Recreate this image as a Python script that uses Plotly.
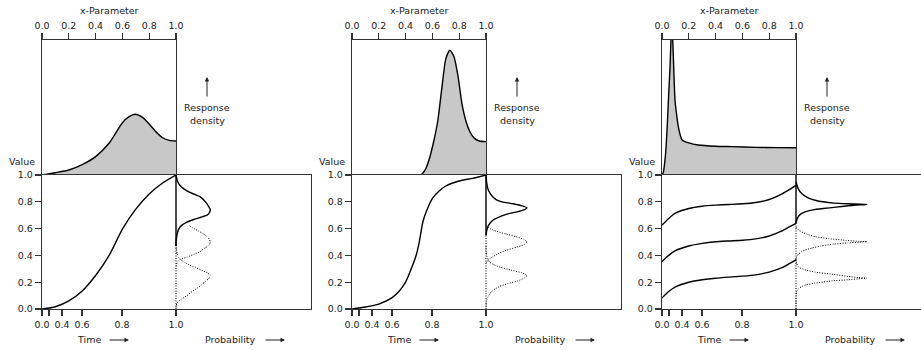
import plotly.graph_objects as go

# ---------------- data ----------------
XPARAM_TICKS = [0.0, 0.2, 0.4, 0.6, 0.8, 1.0]
XPARAM_TICK_TEXT = ["0.0", "0.2", "0.4", "0.6", "0.8", "1.0"]
VALUE_TICKS = [0.0, 0.2, 0.4, 0.6, 0.8, 1.0]
VALUE_TICK_TEXT = ["0.0", "0.2", "0.4", "0.6", "0.8", "1.0"]
# time axis is non-linear with respect to the x-parameter
TIME_TICK_POS = [0.0, 0.052, 0.149, 0.299, 0.597, 1.0]
TIME_TICK_TEXT = ["0.0", "", "0.4", "0.6", "0.8", "1.0"]

# ---- panel 1
P1_TOP_U = [0, 0.1, 0.2, 0.3, 0.4, 0.5, 0.6, 0.65, 0.695, 0.75, 0.8, 0.85, 0.9, 0.95, 1.0]
P1_TOP_D = [0, 0.017, 0.037, 0.077, 0.136, 0.235, 0.387, 0.432, 0.45, 0.427, 0.378, 0.32, 0.276, 0.257, 0.252]
P1_VAL_U = [0, 0.1, 0.2, 0.3, 0.4, 0.5, 0.6, 0.7, 0.8, 0.9, 1.0]
P1_VAL_V = [0, 0.017, 0.06, 0.135, 0.25, 0.398, 0.596, 0.745, 0.858, 0.94, 1.0]
P1_SOLID_V = [1.0, 0.96, 0.936, 0.91, 0.881, 0.86, 0.837, 0.79, 0.743, 0.72, 0.70, 0.685, 0.668, 0.645, 0.626, 0.60, 0.577, 0.54, 0.50, 0.47]
P1_SOLID_P = [0, 0.009, 0.020, 0.041, 0.081, 0.126, 0.180, 0.226, 0.254, 0.248, 0.230, 0.185, 0.131, 0.074, 0.044, 0.022, 0.013, 0.005, 0.001, 0]
P1_DOT1_V = [0.62, 0.60, 0.58, 0.56, 0.54, 0.52, 0.50, 0.48, 0.46, 0.44, 0.428, 0.41, 0.386, 0.371, 0.355, 0.335, 0.31]
P1_DOT1_P = [0.101, 0.133, 0.170, 0.204, 0.230, 0.248, 0.254, 0.248, 0.222, 0.193, 0.178, 0.137, 0.081, 0.032, 0.013, 0.004, 0]
P1_DOT2_V = [0.50, 0.45, 0.41, 0.385, 0.371, 0.35, 0.33, 0.31, 0.29, 0.27, 0.248, 0.225, 0.20, 0.18, 0.16, 0.13, 0.10, 0.075, 0.045, 0.02, 0.0]
P1_DOT2_P = [0, 0.002, 0.009, 0.019, 0.032, 0.059, 0.096, 0.141, 0.189, 0.233, 0.254, 0.241, 0.211, 0.189, 0.163, 0.119, 0.081, 0.041, 0.007, 0.001, 0]

# ---- panel 2
P2_TOP_U = [0, 0.5, 0.52, 0.55, 0.58, 0.61, 0.64, 0.67, 0.70, 0.73, 0.76, 0.79, 0.82, 0.85, 0.88, 0.91, 0.95, 1.0]
P2_TOP_D = [0, 0, 0.005, 0.045, 0.13, 0.25, 0.40, 0.64, 0.86, 0.925, 0.88, 0.74, 0.53, 0.40, 0.32, 0.275, 0.252, 0.247]
P2_VAL_U = [0, 0.1, 0.2, 0.3, 0.35, 0.4, 0.45, 0.48, 0.5, 0.53, 0.56, 0.6, 0.65, 0.7, 0.8, 0.9, 1.0]
P2_VAL_V = [0, 0.015, 0.037, 0.085, 0.13, 0.20, 0.32, 0.405, 0.49, 0.655, 0.74, 0.825, 0.88, 0.918, 0.955, 0.975, 1.0]
P2_SOLID_V = [1.0, 0.95, 0.90, 0.87, 0.84, 0.815, 0.80, 0.785, 0.77, 0.755, 0.74, 0.725, 0.71, 0.69, 0.67, 0.65, 0.63, 0.60, 0.57, 0.55]
P2_SOLID_P = [0, 0.004, 0.013, 0.026, 0.048, 0.078, 0.119, 0.2, 0.267, 0.304, 0.281, 0.23, 0.163, 0.104, 0.063, 0.037, 0.022, 0.009, 0.003, 0]
P2_DOT1_V = [0.62, 0.60, 0.58, 0.56, 0.54, 0.52, 0.50, 0.48, 0.46, 0.44, 0.42, 0.40, 0.38, 0.36, 0.34]
P2_DOT1_P = [0, 0.03, 0.078, 0.148, 0.222, 0.281, 0.304, 0.281, 0.222, 0.156, 0.104, 0.067, 0.033, 0.011, 0]
P2_DOT2_V = [0.47, 0.42, 0.39, 0.37, 0.35, 0.33, 0.31, 0.29, 0.27, 0.25, 0.23, 0.21, 0.19, 0.17, 0.15, 0.13, 0.11, 0.09, 0.07, 0.05, 0.0]
P2_DOT2_P = [0, 0.002, 0.007, 0.015, 0.026, 0.059, 0.111, 0.185, 0.267, 0.304, 0.281, 0.237, 0.163, 0.104, 0.067, 0.041, 0.026, 0.015, 0.007, 0.002, 0]

# ---- panel 3
P3_TOP_U = [0, 0.01, 0.02, 0.03, 0.04, 0.05, 0.06, 0.065, 0.072, 0.08, 0.09, 0.097, 0.11, 0.12, 0.135, 0.15, 0.2, 0.27, 0.4, 0.52, 0.7, 0.85, 1.0]
P3_TOP_D = [0, 0.02, 0.09, 0.2, 0.38, 0.6, 0.8, 0.95, 1.1, 1.0, 0.72, 0.556, 0.44, 0.37, 0.3, 0.26, 0.238, 0.222, 0.213, 0.21, 0.205, 0.203, 0.202]
P3_TRAJ_U = [0, 0.05, 0.1, 0.2, 0.3, 0.4, 0.5, 0.6, 0.7, 0.8, 0.9, 0.95, 1.0]
P3_TRAJ_TOP = [0.626, 0.676, 0.715, 0.75, 0.767, 0.775, 0.78, 0.785, 0.795, 0.817, 0.861, 0.891, 0.923]
P3_TRAJ_MID = [0.354, 0.40, 0.435, 0.47, 0.49, 0.502, 0.508, 0.513, 0.523, 0.545, 0.585, 0.612, 0.639]
P3_TRAJ_BOT = [0.082, 0.13, 0.165, 0.2, 0.218, 0.23, 0.238, 0.245, 0.255, 0.275, 0.31, 0.338, 0.366]
P3_SOLID_V = [0.95, 0.90, 0.86, 0.83, 0.81, 0.80, 0.79, 0.785, 0.78, 0.775, 0.77, 0.76, 0.75, 0.74, 0.725, 0.71, 0.69, 0.665, 0.64]
P3_SOLID_P = [0, 0.015, 0.044, 0.089, 0.148, 0.2, 0.281, 0.385, 0.526, 0.444, 0.385, 0.296, 0.2, 0.126, 0.067, 0.037, 0.017, 0.006, 0]
P3_DOT1_V = [0.61, 0.59, 0.57, 0.555, 0.54, 0.525, 0.512, 0.505, 0.502, 0.499, 0.493, 0.485, 0.47, 0.455, 0.44, 0.425, 0.41, 0.39, 0.36]
P3_DOT1_P = [0, 0.019, 0.052, 0.089, 0.141, 0.244, 0.37, 0.467, 0.526, 0.467, 0.385, 0.281, 0.185, 0.119, 0.067, 0.037, 0.019, 0.004, 0]
P3_DOT2_V = [0.37, 0.34, 0.31, 0.29, 0.275, 0.26, 0.243, 0.235, 0.23, 0.225, 0.218, 0.21, 0.193, 0.18, 0.168, 0.15, 0.13, 0.10, 0.05, 0.0]
P3_DOT2_P = [0, 0.004, 0.022, 0.074, 0.141, 0.264, 0.385, 0.459, 0.526, 0.459, 0.385, 0.264, 0.141, 0.074, 0.042, 0.019, 0.005, 0.001, 0, 0]

PANELS = [
    dict(top=(P1_TOP_U, P1_TOP_D), vals=[(P1_VAL_U, P1_VAL_V)],
         solid=(P1_SOLID_P, P1_SOLID_V), dots=[(P1_DOT1_P, P1_DOT1_V), (P1_DOT2_P, P1_DOT2_V)]),
    dict(top=(P2_TOP_U, P2_TOP_D), vals=[(P2_VAL_U, P2_VAL_V)],
         solid=(P2_SOLID_P, P2_SOLID_V), dots=[(P2_DOT1_P, P2_DOT1_V), (P2_DOT2_P, P2_DOT2_V)]),
    dict(top=(P3_TOP_U, P3_TOP_D),
         vals=[(P3_TRAJ_U, P3_TRAJ_TOP), (P3_TRAJ_U, P3_TRAJ_MID), (P3_TRAJ_U, P3_TRAJ_BOT)],
         solid=(P3_SOLID_P, P3_SOLID_V), dots=[(P3_DOT1_P, P3_DOT1_V), (P3_DOT2_P, P3_DOT2_V)]),
]

# ---------------- layout ----------------
W, H = 921, 350
LINE = "#333333"
TXT = "#222222"
FONT = "DejaVu Sans"
PROB_PX = 135.0  # pixel length of one probability unit


def xd(a, b):
    return [max(0.0, a / W), min(1.0, b / W)]


def yd(top, bottom):
    return [1 - bottom / H, 1 - top / H]


def xn(i):
    return "x" if i == 1 else f"x{i}"


def yn(i):
    return "y" if i == 1 else f"y{i}"


fig = go.Figure()
layout = dict(
    width=W, height=H, margin=dict(l=0, r=0, t=0, b=0, autoexpand=False),
    paper_bgcolor="white", plot_bgcolor="rgba(0,0,0,0)",
    showlegend=False, font=dict(family=FONT, size=9.5, color=TXT),
)
annotations = []

common = dict(showgrid=False, zeroline=False, linecolor=LINE, linewidth=1.3,
              tickcolor=LINE, tickwidth=1.2, fixedrange=True, automargin=False)
SPL = dict(shape="spline", smoothing=0.6)
SPL_D = dict(shape="spline", smoothing=0.35)

for k, pan in enumerate(PANELS):
    o = 310 * k
    it, ib, ip = 3 * k + 1, 3 * k + 2, 3 * k + 3
    right = min(o + 311, W)

    layout["xaxis" + ("" if it == 1 else str(it))] = dict(
        domain=xd(o + 42, o + 176), range=[0, 1], anchor=yn(it), side="top",
        tickvals=XPARAM_TICKS, ticktext=XPARAM_TICK_TEXT, ticks="outside", ticklen=6,
        showline=True, **common)
    layout["yaxis" + ("" if it == 1 else str(it))] = dict(
        domain=yd(40, 175), range=[0, 1], anchor=xn(it), showline=True, mirror=True,
        showticklabels=False, ticks="", **common)

    layout[f"xaxis{ib}"] = dict(
        domain=xd(o + 42, o + 176), range=[0, 1], anchor=yn(ib),
        tickvals=TIME_TICK_POS, ticktext=TIME_TICK_TEXT, ticks="outside", ticklen=6,
        showline=True, mirror=True, **common)
    layout[f"yaxis{ib}"] = dict(
        domain=yd(175, 309), range=[0, 1], anchor=xn(ib),
        tickvals=VALUE_TICKS, ticktext=VALUE_TICK_TEXT, ticks="outside", ticklen=6,
        showline=True, **common)

    layout[f"xaxis{ip}"] = dict(
        domain=xd(o + 174, right), range=[-2 / PROB_PX, (right - (o + 176)) / PROB_PX],
        anchor=yn(ip), showline=True, mirror=True, showticklabels=False, ticks="", **common)
    layout[f"yaxis{ip}"] = dict(
        domain=yd(175, 309), range=[0, 1], anchor=xn(ip), side="right",
        showline=(o + 311 <= W), showticklabels=False, ticks="", **common)

    # top density
    u, d = pan["top"]
    fig.add_trace(go.Scatter(x=u, y=d, mode="lines", fill="tozeroy", fillcolor="#c8c8c8",
                             line=dict(color="black", width=1.4, **SPL),
                             xaxis=xn(it), yaxis=yn(it), hoverinfo="skip"))
    # value trajectories
    for (vu, vv) in pan["vals"]:
        fig.add_trace(go.Scatter(x=vu, y=vv, mode="lines",
                                 line=dict(color="black", width=1.4, **SPL),
                                 xaxis=xn(ib), yaxis=yn(ib), hoverinfo="skip"))
    sp, sv = pan["solid"]
    # baselines of the probability densities (zero probability)
    fig.add_trace(go.Scatter(x=[0, 0], y=[0, min(sv)], mode="lines",
                             line=dict(color="black", width=1.0, dash="1px,1.5px"),
                             xaxis=xn(ip), yaxis=yn(ip), hoverinfo="skip"))
    fig.add_trace(go.Scatter(x=[0, 0], y=[min(sv), VALUE_TICKS[-1]], mode="lines",
                             line=dict(color="black", width=1.4),
                             xaxis=xn(ip), yaxis=yn(ip), hoverinfo="skip"))
    # probability densities
    for (pp, pv) in pan["dots"]:
        fig.add_trace(go.Scatter(x=pp, y=pv, mode="lines",
                                 line=dict(color="black", width=1.0, dash="1px,1.5px", **SPL_D),
                                 xaxis=xn(ip), yaxis=yn(ip), hoverinfo="skip"))
    fig.add_trace(go.Scatter(x=sp, y=sv, mode="lines",
                             line=dict(color="black", width=1.4, **SPL_D),
                             xaxis=xn(ip), yaxis=yn(ip), hoverinfo="skip"))

    def txt(s, px, py, size=9.5, xanchor="center"):
        annotations.append(dict(text=s, x=px / W, y=1 - py / H, xref="paper", yref="paper",
                                showarrow=False, xanchor=xanchor, yanchor="middle",
                                font=dict(family=FONT, size=size, color=TXT)))

    def arrow(px, py, ax, ay):
        annotations.append(dict(text="", x=px / W, y=1 - py / H, xref="paper", yref="paper",
                                showarrow=True, ax=ax, ay=ay, arrowhead=2, arrowsize=0.9,
                                arrowwidth=1.0, arrowcolor=TXT))

    txt("x-Parameter", o + 109, 10)
    txt("Value", o + 22, 161)
    txt("Response", o + 207, 108, size=9.5)
    txt("density", o + 207, 121, size=9.5)
    arrow(o + 207, 77, 0, 21)
    txt("Time", o + 89, 339)
    arrow(o + 129, 340, -21, 0)
    txt("Probability", o + 230, 339)
    arrow(o + 285, 340, -21, 0)

layout["annotations"] = annotations
fig.update_layout(**layout)
fig.write_html(
    "out.html",
    config={"displayModeBar": False, "staticPlot": True},
    post_script="document.body.style.margin='0';document.body.style.overflow='hidden';"
                "document.documentElement.style.overflow='hidden';",
)
